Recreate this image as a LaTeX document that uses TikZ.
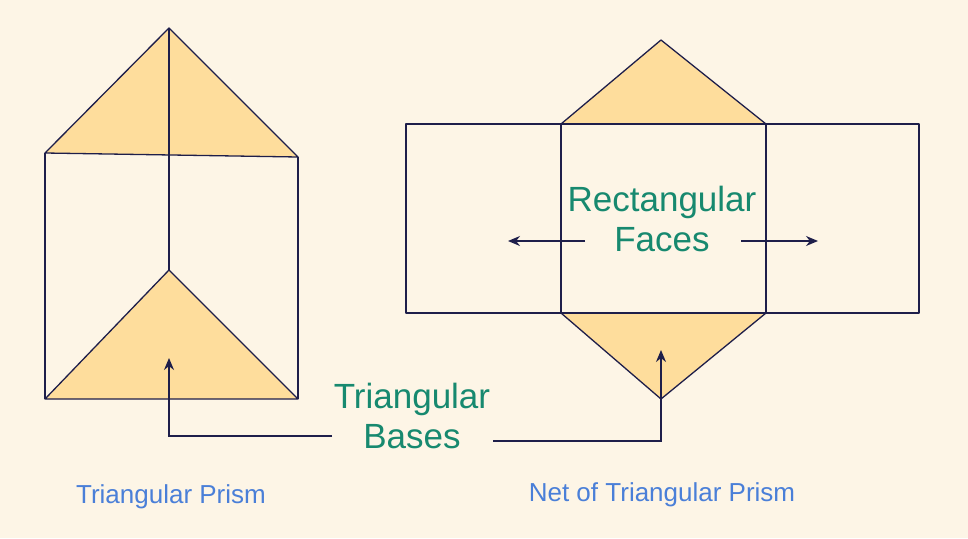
\documentclass[tikz,border=0pt]{standalone}
\usepackage{fontspec}
\setmainfont{Liberation Sans}
\usetikzlibrary{arrows.meta}
\definecolor{bg}{HTML}{FDF5E6}
\definecolor{tri}{HTML}{FEDD9C}
\definecolor{edge}{HTML}{1E1E4A}
\definecolor{lab}{HTML}{17896F}
\definecolor{cap}{HTML}{4A7FD8}
\begin{document}
\begin{tikzpicture}[x=1pt,y=-1pt,
  face/.style={draw=edge,line width=1.3pt,line join=round},
  arr/.style={draw=edge,line width=1.3pt,-{Stealth[length=12pt,width=10pt]}},
  big/.style={text=lab,font=\fontsize{35}{40}\selectfont,align=center},
  capt/.style={text=cap,font=\fontsize{26}{30}\selectfont}]
\fill[bg] (0,0) rectangle (968,538);
\useasboundingbox (0,0) rectangle (968,538);
% prism
\filldraw[face,fill=tri] (169,28) -- (45,153) -- (298,157) -- cycle;
\filldraw[face,fill=tri] (45,399) -- (169,270) -- (298,399) -- cycle;
\draw[face] (169,28) -- (169,270);
\draw[face] (45,153) -- (45,399);
\draw[face] (298,157) -- (298,399);
% net
\filldraw[face,fill=tri] (561,124) -- (661,40) -- (766,124) -- cycle;
\filldraw[face,fill=tri] (561,313) -- (661,399) -- (766,313) -- cycle;
\draw[face] (406,124) rectangle (561,313);
\draw[face] (561,124) rectangle (766,313);
\draw[face] (766,124) rectangle (919,313);
% labels
\node[big] (rf) at (662,219) {Rectangular\\Faces};
\node[big] (tb) at (412,416) {Triangular\\Bases};
\coordinate (a1) at (585,241); \coordinate (a2) at (508,241);
\coordinate (b1) at (741,241); \coordinate (b2) at (818,241);
\draw[arr] (a1) -- (a2);
\draw[arr] (b1) -- (b2);
\coordinate (c1) at (332,436); \coordinate (c2) at (169,358);
\coordinate (d1) at (493,441); \coordinate (d2) at (661,350);
\draw[arr] (c1) -| (c2);
\draw[arr] (d1) -| (d2);
\node[capt] (p) at (171,497) {Triangular Prism};
\node[capt] (n) at (662,495) {Net of Triangular Prism};
\end{tikzpicture}
\end{document}
